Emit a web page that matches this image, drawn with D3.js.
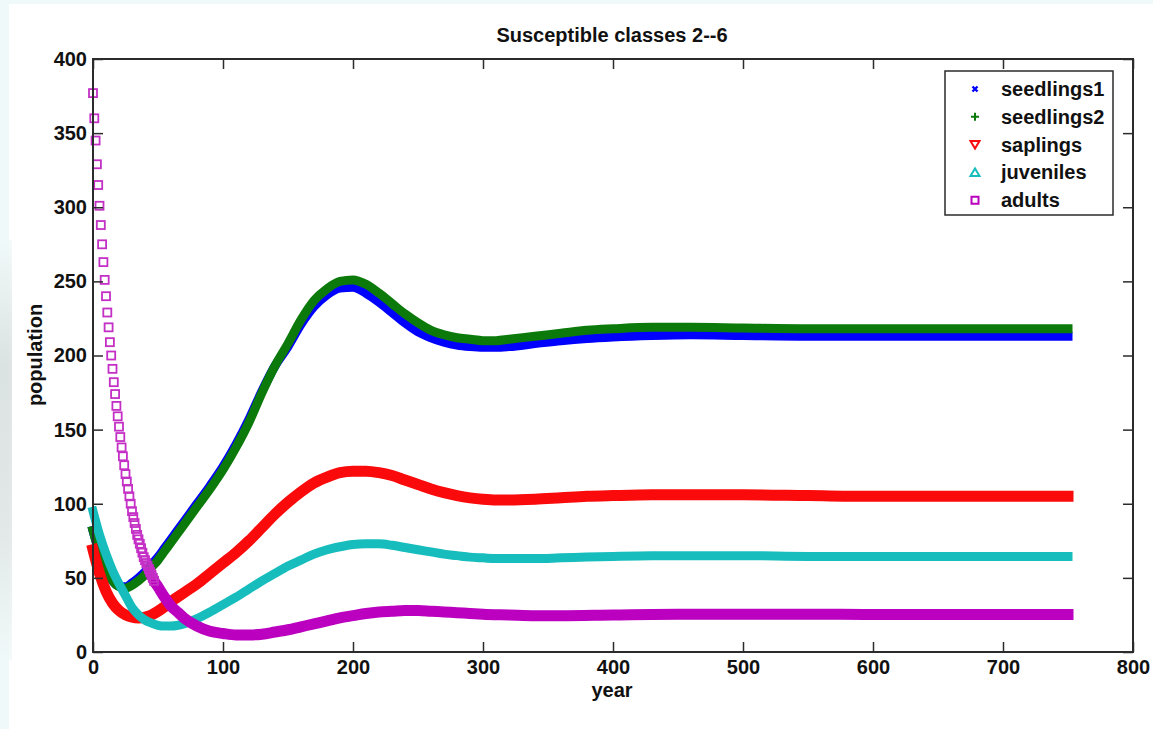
<!DOCTYPE html>
<html>
<head>
<meta charset="utf-8">
<script src="https://cdn.jsdelivr.net/npm/d3@7"></script>
<style>
  body { margin: 0; background: #ffffff; }
  svg { display: block; }
</style>
</head>
<body>
<div id="my_dataviz"></div>
<script>

// ---- data ----
var xTicks = [0, 100, 200, 300, 400, 500, 600, 700, 800];
var yTicks = [0, 50, 100, 150, 200, 250, 300, 350, 400];

var seriesNames = ["seedlings1", "seedlings2", "saplings", "juveniles", "adults"];

// sample years for the smooth classes
var years = [0, 5, 10, 15, 20, 25, 30, 35, 40, 45, 50, 55, 60, 70, 80, 90, 100, 110, 120, 130,
  140, 150, 160, 170, 180, 190, 200, 210, 220, 230, 240, 250, 260, 270, 280, 290, 300, 310, 320,
  340, 360, 380, 400, 430, 460, 500, 550, 600, 650, 700, 750];

var seedlings1 = [82, 67, 56, 48, 44.5, 44, 46.5, 50, 54, 59, 64, 70, 76, 88, 100, 112, 125, 140, 157, 176,
  193, 206, 221, 233, 241, 245.5, 246, 242, 236, 229, 222, 216, 212, 209, 207, 206, 205.5, 205.5, 206,
  208, 210, 211.5, 212.5, 213.5, 214, 213.5, 213, 213, 213, 213, 213];

var seedlings2 = [82, 67, 56, 48, 44, 43, 45, 48, 52, 57, 62, 68, 74, 86, 98, 110, 123, 138, 155, 175,
  193, 208, 224, 237, 245, 250, 251, 248, 242, 235, 228, 222, 217, 214, 212, 211, 210, 210, 211,
  213, 215, 217, 218, 219, 219, 218.5, 218, 218, 218, 218, 218];

var saplings = [69, 53, 41, 33, 28, 25, 23.5, 23, 23.5, 25, 27.5, 30.5, 34, 40, 46, 53, 60, 67, 75, 84,
  93, 101, 108, 114, 118, 121, 122, 122, 121, 119, 116, 113, 110, 107.5, 105.5, 104, 103, 102.5, 102.5,
  103, 104, 105, 105.5, 106, 106, 106, 105.5, 105, 105, 105, 105];

var juveniles = [95, 79, 66, 55, 46, 38, 30, 25, 21.5, 19.5, 18, 17.5, 17.5, 19, 22.5, 27, 32, 37, 42.5, 48,
  53, 58, 62, 66, 69, 71, 72.5, 73, 73, 72, 70.5, 69, 67.5, 66, 65, 64, 63.5, 63, 63,
  63, 63.5, 64, 64.5, 65, 65, 65, 64.5, 64.5, 64.5, 64.5, 64.5];

// adults: one square per year at the start, where the squares stand apart
var adultsEarly = [377, 360, 345, 329, 315, 301, 288, 275, 263, 251, 240, 229, 219, 209, 200, 191,
  182, 174, 166, 159, 152, 145, 138, 132, 126, 120, 115, 110, 105, 100, 95, 91, 87, 83, 79, 76,
  73, 70, 67, 64, 62, 60, 58, 56, 54, 52, 50, 48];

// adults afterwards, where the squares run together
var adultsYears = [44, 47, 50, 55, 60, 65, 70, 80, 90, 100, 110, 120, 130, 140, 150, 160, 170, 180,
  190, 200, 210, 220, 230, 240, 250, 260, 270, 280, 290, 300, 320, 340, 360, 400, 450, 500, 550,
  600, 650, 700, 750];
var adultsLate = [54, 48, 44, 37, 31, 27, 23, 17.5, 14, 12.5, 11.5, 11.5, 12, 13.5, 15, 17, 19, 21,
  23, 24.5, 26, 27, 27.5, 28, 28, 27.5, 27, 26.5, 26, 25.5, 25, 24.5, 24.5, 25, 25.5, 25.5, 25.5,
  25.3, 25.3, 25.3, 25.3];

// ---- layout ----
var W = 1153, H = 729;
var margin = {top: 59, right: 20, bottom: 77, left: 93};
var width = W - margin.left - margin.right;
var height = H - margin.top - margin.bottom;

var colors = {
  seedlings1: "#0000ff",
  seedlings2: "#0b7a0b",
  saplings: "#fa0a0a",
  juveniles: "#17bdbd",
  adults: "#bb00bf"
};
var bandWidth = {seedlings1: 9, seedlings2: 9, saplings: 11, juveniles: 9, adults: 11};

var font = "'Liberation Sans', Arial, Helvetica, sans-serif";

var svgRoot = d3.select("#my_dataviz")
  .append("svg")
    .attr("width", W)
    .attr("height", H);

// faint picture border like the screenshot
svgRoot.append("rect").attr("width", W).attr("height", H).attr("fill", "#f0f9f9");
svgRoot.append("rect").attr("x", 9).attr("y", 4).attr("width", W - 9).attr("height", H - 4).attr("fill", "#ffffff");
var grad = svgRoot.append("defs").append("linearGradient").attr("id", "edge")
  .attr("x1", 0).attr("x2", 0).attr("y1", 0).attr("y2", 1);
grad.append("stop").attr("offset", "0%").attr("stop-color", "#f0f9f9");
grad.append("stop").attr("offset", "30%").attr("stop-color", "#d6dcdc");
grad.append("stop").attr("offset", "70%").attr("stop-color", "#dfe4e4");
grad.append("stop").attr("offset", "100%").attr("stop-color", "#f0f9f9");
svgRoot.append("rect").attr("x", 0).attr("y", 240).attr("width", 12).attr("height", 420)
  .attr("fill", "url(#edge)").attr("opacity", 0.8);

var svg = svgRoot.append("g")
  .attr("transform", "translate(" + margin.left + "," + margin.top + ")");

// scales
var x = d3.scaleLinear().domain([0, 800]).range([0, width]);
var y = d3.scaleLinear().domain([0, 400]).range([height, 0]);

// plot background
svg.append("rect")
  .attr("width", width)
  .attr("height", height)
  .attr("fill", "#ffffff");

// ---- bands ----
var line = d3.line()
  .x(function(d) { return x(d[0]); })
  .y(function(d) { return y(d[1]); })
  .curve(d3.curveMonotoneX);

var bands = [
  {name: "seedlings1", pts: d3.zip(years, seedlings1)},
  {name: "seedlings2", pts: d3.zip(years, seedlings2)},
  {name: "saplings", pts: d3.zip(years, saplings)},
  {name: "juveniles", pts: d3.zip(years, juveniles)},
  {name: "adults", pts: d3.zip(adultsYears, adultsLate)}
];

svg.append("g")
  .selectAll("path")
  .data(bands)
  .enter()
  .append("path")
    .attr("d", function(d) { return line(d.pts); })
    .attr("fill", "none")
    .attr("stroke", function(d) { return colors[d.name]; })
    .attr("stroke-width", function(d) { return bandWidth[d.name]; })
    .attr("stroke-linecap", "square")
    .attr("stroke-linejoin", "round");

// adults squares (one per year)
var sq = 8;
svg.append("g")
  .selectAll("rect")
  .data(adultsEarly)
  .enter()
  .append("rect")
    .attr("x", function(d, i) { return x(i) - sq / 2; })
    .attr("y", function(d) { return y(d) - sq / 2; })
    .attr("width", sq)
    .attr("height", sq)
    .attr("fill", "none")
    .attr("stroke", "#c430c6")
    .attr("stroke-width", 1.8);

// ---- axes (ticks inward on all four sides) ----
var axisColor = "#2b2b2b";

function styleAxis(g) {
  g.select(".domain").remove();
  g.selectAll(".tick line").attr("stroke", axisColor).attr("stroke-width", 1.5);
  g.selectAll("text")
    .attr("fill", "#111")
    .style("font-family", font)
    .style("font-weight", "bold")
    .style("font-size", "20px");
}

svg.append("g")
  .attr("transform", "translate(0," + height + ")")
  .call(d3.axisBottom(x).tickValues(xTicks).tickSizeInner(-10).tickSizeOuter(0).tickPadding(8))
  .call(styleAxis);

svg.append("g")
  .call(d3.axisLeft(y).tickValues(yTicks).tickSizeInner(-10).tickSizeOuter(0).tickPadding(6))
  .call(styleAxis);

svg.append("g")
  .call(d3.axisTop(x).tickValues(xTicks).tickSizeInner(-10).tickSizeOuter(0).tickFormat(""))
  .call(styleAxis);

svg.append("g")
  .attr("transform", "translate(" + width + ",0)")
  .call(d3.axisRight(y).tickValues(yTicks).tickSizeInner(-10).tickSizeOuter(0).tickFormat(""))
  .call(styleAxis);

// box
svg.append("rect")
  .attr("width", width)
  .attr("height", height)
  .attr("fill", "none")
  .attr("stroke", axisColor)
  .attr("stroke-width", 2);

// ---- labels ----
svgRoot.append("text")
  .attr("x", 612)
  .attr("y", 42)
  .attr("text-anchor", "middle")
  .style("font-family", font)
  .style("font-weight", "bold")
  .style("font-size", "20px")
  .attr("fill", "#111")
  .text("Susceptible classes 2--6");

svgRoot.append("text")
  .attr("x", 612)
  .attr("y", 697)
  .attr("text-anchor", "middle")
  .style("font-family", font)
  .style("font-weight", "bold")
  .style("font-size", "20px")
  .attr("fill", "#111")
  .text("year");

svgRoot.append("text")
  .attr("transform", "translate(42,355) rotate(-90)")
  .attr("text-anchor", "middle")
  .style("font-family", font)
  .style("font-weight", "bold")
  .style("font-size", "20px")
  .attr("fill", "#111")
  .text("population");

// ---- legend ----
var legend = svgRoot.append("g");
legend.append("rect")
  .attr("x", 945)
  .attr("y", 71)
  .attr("width", 168)
  .attr("height", 144)
  .attr("fill", "#ffffff")
  .attr("stroke", axisColor)
  .attr("stroke-width", 1.5);

var rowY = function(i) { return 89 + i * 27.8; };
var markerPath = {
  seedlings1: "M-2.5,-2.5L2.5,2.5M2.5,-2.5L-2.5,2.5",
  seedlings2: "M-4,0H4M0,-4V4",
  saplings: "M-4.5,-3.5H4.5L0,4Z",
  juveniles: "M-4.5,3.5H4.5L0,-4Z",
  adults: "M-3.5,-3.5H3.5V3.5H-3.5Z"
};

legend.selectAll("path")
  .data(seriesNames)
  .enter()
  .append("path")
    .attr("transform", function(d, i) { return "translate(975," + rowY(i) + ")"; })
    .attr("d", function(d) { return markerPath[d]; })
    .attr("fill", "none")
    .attr("stroke", function(d) { return colors[d]; })
    .attr("stroke-width", function(d) { return d === "seedlings1" ? 2.4 : 2; });

legend.selectAll("text")
  .data(seriesNames)
  .enter()
  .append("text")
    .attr("x", 1001)
    .attr("y", function(d, i) { return rowY(i) + 7; })
    .style("font-family", font)
    .style("font-weight", "bold")
    .style("font-size", "20px")
    .attr("fill", "#111")
    .text(function(d) { return d; });

</script>
</body>
</html>
